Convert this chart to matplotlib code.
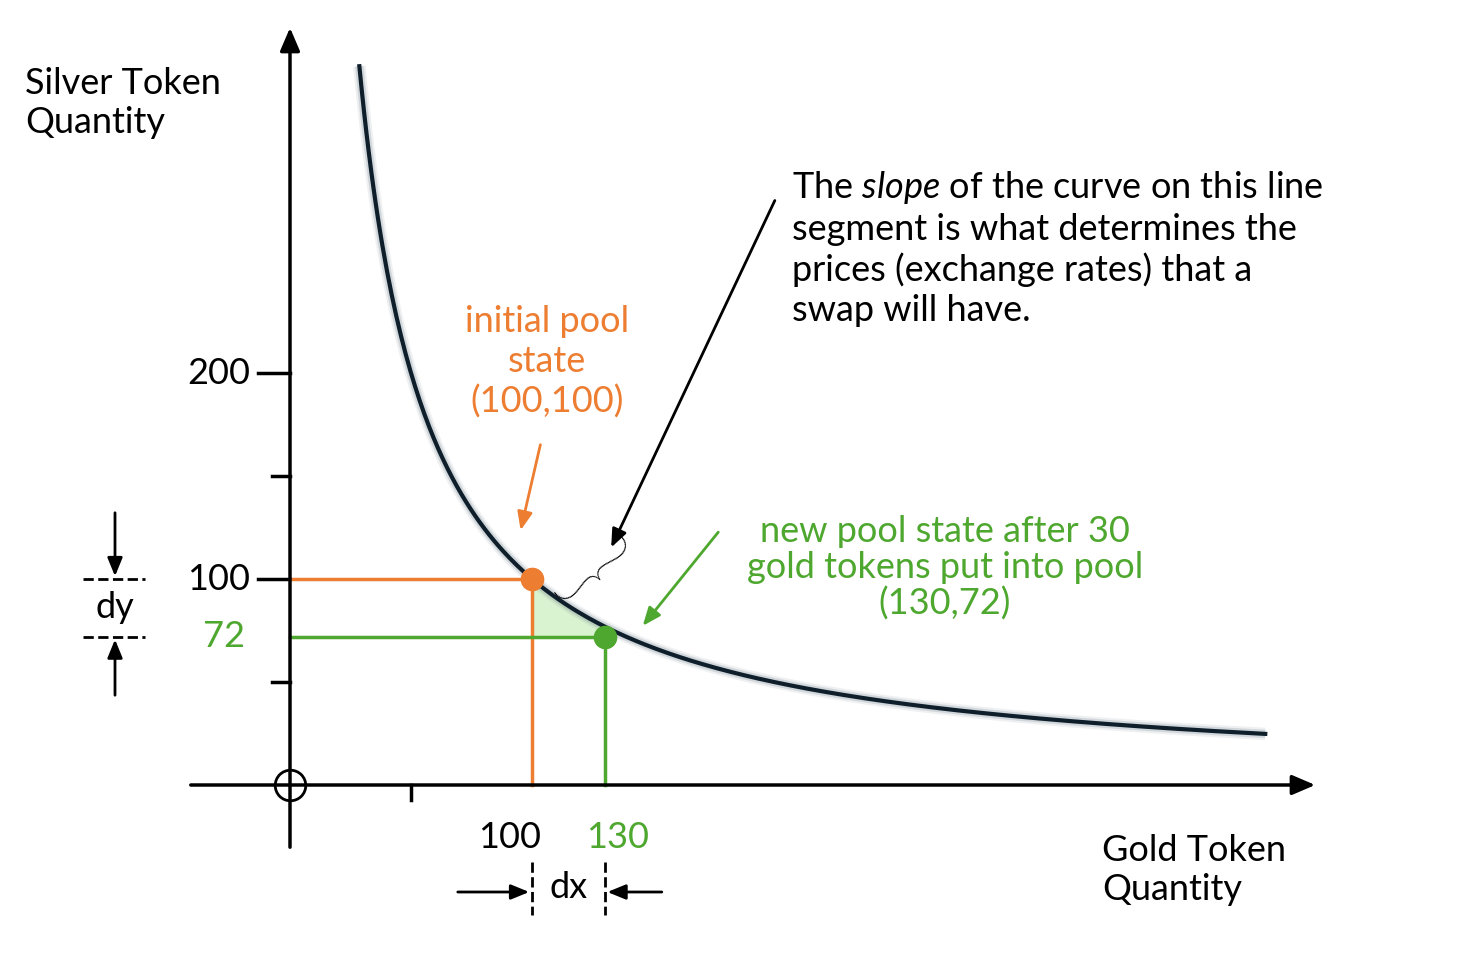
import numpy as np
import matplotlib
matplotlib.use("Agg")
import matplotlib.pyplot as plt

plt.rcParams["font.family"] = "Lato"
plt.rcParams["mathtext.fontset"] = "custom"
plt.rcParams["mathtext.it"] = "Lato:italic"

k = 10000.0
initial_state = (100, 100)
new_state = (130, 72)
y_ticks_major = [100, 200]
y_ticks_minor = [50, 150]
x_ticks_minor = [50]
curve_x = np.linspace(21, 403, 400)

ORANGE = "#ed7d31"
GREEN = "#4ea72e"
DARK = "#0e1f2b"

fig = plt.figure(figsize=(14.64, 9.57), dpi=100)
ax = fig.add_axes([0, 0, 1, 1])
sx, sy = 2.42, 2.06
ax.set_xlim(-290 / sx, (1464 - 290) / sx)
ax.set_ylim(-(957 - 785) / sy, 785 / sy)
ax.axis("off")

def P(px, py):
    return ((px - 290) / sx, (785 - py) / sy)

# axes
ax.annotate("", xy=P(1318, 785), xytext=P(188, 785),
            arrowprops=dict(arrowstyle="-|>,head_length=1.4,head_width=0.6", color="black", lw=2.5))
ax.annotate("", xy=P(290, 25), xytext=P(290, 850),
            arrowprops=dict(arrowstyle="-|>,head_length=1.4,head_width=0.6", color="black", lw=2.5))
ax.plot(*P(290, 785), "o", ms=22, mfc="none", mec="black", mew=2)
for t in y_ticks_major + y_ticks_minor:
    x0 = P(258 if t in y_ticks_major else 272, 0)[0]
    ax.plot([x0, 0], [t, t], color="black", lw=2.5)
for t in x_ticks_minor:
    ax.plot([t, t], [0, P(0, 800)[1]], color="black", lw=2.5)

# curve
cy = k / curve_x
mask = cy < P(0, 50)[1]
for lw, a in [(9, 0.12), (6, 0.25)]:
    ax.plot(curve_x[mask], cy[mask], color="#7a8a96", lw=lw, alpha=a, solid_capstyle="butt")
ax.plot(curve_x[mask], cy[mask], color=DARK, lw=3)

# shaded region
fx = np.linspace(initial_state[0], new_state[0], 50)
ax.fill_between(fx, new_state[1], np.maximum(k / fx, new_state[1]), color="#d9f2d0", zorder=1)

# guide lines
ax.plot([0, initial_state[0], initial_state[0]], [initial_state[1], initial_state[1], 0], color=ORANGE, lw=2.5)
ax.plot([0, new_state[0], new_state[0]], [new_state[1], new_state[1], 0], color=GREEN, lw=2.5)
ax.plot(*initial_state, "o", color=ORANGE, ms=16, zorder=5)
ax.plot(*new_state, "o", color=GREEN, ms=16, zorder=5)

fs = 26
ax.text(250 / -sx + 0, 200, "", fontsize=fs)
ax.text(P(250, 0)[0], 200, "200", fontsize=fs, ha="right", va="center")
ax.text(P(250, 0)[0], 100, "100", fontsize=fs, ha="right", va="center")
ax.text(P(245, 0)[0], 72, "72", fontsize=fs, ha="right", va="center", color=GREEN)
ax.text(*P(510, 837), "100", fontsize=fs, ha="center", va="center")
ax.text(*P(618, 837), "130", fontsize=fs, ha="center", va="center", color=GREEN)
ax.text(*P(25, 103), "Silver Token\nQuantity", fontsize=fs, va="center", linespacing=1.25)
ax.text(*P(1102, 870), "Gold Token\nQuantity", fontsize=fs, va="center", linespacing=1.25)
ax.text(*P(547, 362), "initial pool\nstate\n(100,100)", fontsize=fs, ha="center", va="center",
        color=ORANGE, linespacing=1.25)
ax.text(*P(945, 568), "new pool state after 30\ngold tokens put into pool\n(130,72)", fontsize=fs,
        ha="center", va="center", color=GREEN, linespacing=1.1)
ax.text(*P(792, 248), "The $\\mathit{slope}$ of the curve on this line\nsegment is what determines the\n"
        "prices (exchange rates) that a\nswap will have.", fontsize=fs, va="center", linespacing=1.25)

# annotation arrows
arw = dict(arrowstyle="-|>,head_length=1.1,head_width=0.45", lw=2)
ax.annotate("", xy=P(520, 533), xytext=P(541, 442), arrowprops=dict(color=ORANGE, **arw))
ax.annotate("", xy=P(641, 628), xytext=P(720, 530), arrowprops=dict(color=GREEN, **arw))
ax.annotate("", xy=P(610, 550), xytext=P(776, 198), arrowprops=dict(color="black", **arw))
ax.text(*P(588, 578), "}", fontsize=72, rotation=-50, ha="center", va="center", fontweight="light")

# dy / dx markers
ax.plot([P(83, 0)[0], P(145, 0)[0]], [100, 100], color="black", lw=2, ls="--")
ax.plot([P(83, 0)[0], P(145, 0)[0]], [72, 72], color="black", lw=2, ls="--")
xm = P(115, 0)[0]
ax.annotate("", xy=(xm, 100), xytext=(xm, P(0, 510)[1]), arrowprops=dict(color="black", **arw))
ax.annotate("", xy=(xm, 72), xytext=(xm, P(0, 698)[1]), arrowprops=dict(color="black", **arw))
ax.text(xm, 86, "dy", fontsize=fs, ha="center", va="center")
yb0, yb1 = P(0, 862)[1], P(0, 915)[1]
ax.plot([100, 100], [yb0, yb1], color="black", lw=2, ls="--")
ax.plot([130, 130], [yb0, yb1], color="black", lw=2, ls="--")
ym = P(0, 892)[1]
ax.annotate("", xy=(100, ym), xytext=(P(455, 0)[0], ym), arrowprops=dict(color="black", **arw))
ax.annotate("", xy=(130, ym), xytext=(130 + 60 / sx, ym), arrowprops=dict(color="black", **arw))
ax.text(115, P(0, 888)[1], "dx", fontsize=fs, ha="center", va="center")

fig.savefig("out.png", dpi=100)
